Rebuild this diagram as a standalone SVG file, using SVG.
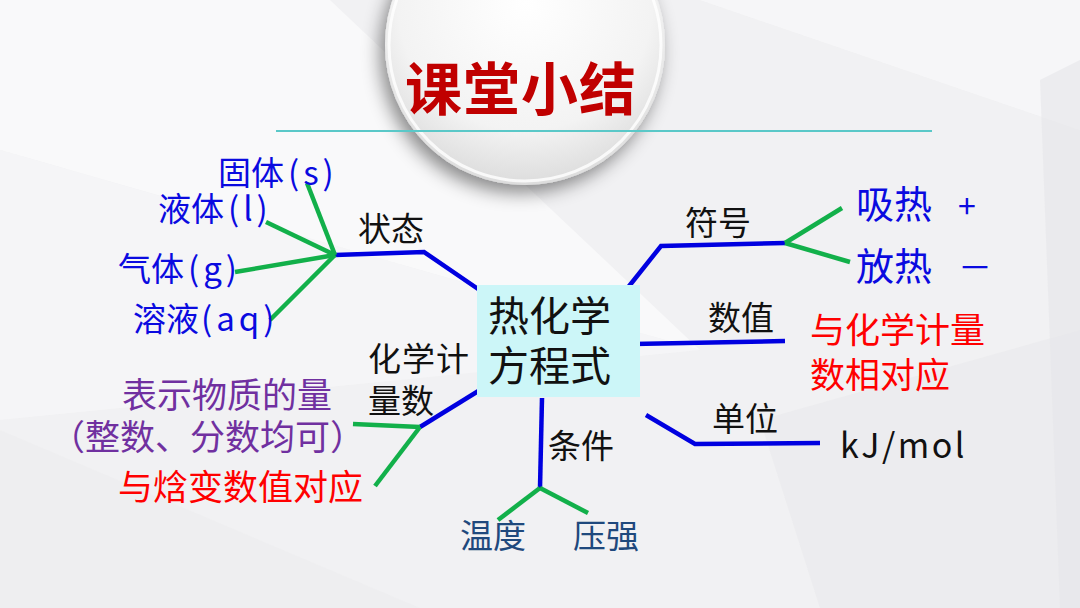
<svg xmlns="http://www.w3.org/2000/svg" width="1080" height="608" viewBox="0 0 1080 608">
<defs>
<radialGradient id="cg" cx="0.5" cy="0.35" r="0.65">
<stop offset="0" stop-color="#ffffff"/>
<stop offset="0.7" stop-color="#f3f3f3"/>
<stop offset="1" stop-color="#dcdcdc"/>
</radialGradient>
<filter id="sh" x="-30%" y="-30%" width="160%" height="160%">
<feGaussianBlur in="SourceAlpha" stdDeviation="9"/>
<feOffset dx="-5" dy="8" result="b"/>
<feFlood flood-color="#000" flood-opacity="0.45"/>
<feComposite in2="b" operator="in"/>
<feMerge><feMergeNode/><feMergeNode in="SourceGraphic"/></feMerge>
</filter>
<style>
text{font-family:"Noto Sans CJK SC","Noto Sans",sans-serif;}
.blk{fill:#111;font-size:33px;}
.st{fill:#0a0ae0;font-size:33px;}
.pr{letter-spacing:4px;}
.bl{fill:none;stroke:#0000e0;stroke-width:4.5;stroke-linejoin:miter;}
.gr{fill:none;stroke:#12b04a;stroke-width:4.5;}
.red{fill:#ff0000;font-size:35px;}
</style>
</defs>
<g id="background">
<rect x="0" y="0" width="1080" height="608" fill="#f1f1f3"/>
<polygon points="0,0 330,0 700,350 0,150" fill="#ffffff" opacity="0.55"/>
<polygon points="0,150 700,350 0,420" fill="#f7f7f8" opacity="0.7"/>
<polygon points="700,0 1080,0 1080,130" fill="#f8f8f9" opacity="0.8"/>
<polygon points="760,420 1080,330 1080,608 820,608" fill="#e9e9ec" opacity="0.7"/>
<polygon points="0,430 420,608 0,608" fill="#ececef" opacity="0.6"/>
<polygon points="1040,80 1080,60 1080,608 1060,608" fill="#e6e6ea" opacity="0.6"/>
</g>
<g id="title">
<circle cx="525" cy="45" r="140" fill="url(#cg)" filter="url(#sh)"/>
<circle cx="525" cy="45" r="136" fill="none" stroke="#ffffff" stroke-width="3" opacity="0.8"/>
<line x1="276" y1="131" x2="932" y2="131" stroke="#5ac8c8" stroke-width="2"/>
<text x="405" y="110" fill="#c00000" font-size="57" font-weight="bold" letter-spacing="1">课堂小结</text>
</g>
<g id="connectors">
<polyline class="bl" points="481,291 424,252 335,255"/>
<line class="gr" x1="335" y1="255" x2="307" y2="183"/>
<line class="gr" x1="335" y1="255" x2="266" y2="222"/>
<line class="gr" x1="335" y1="255" x2="235" y2="272"/>
<line class="gr" x1="335" y1="255" x2="270" y2="320"/>
<polyline class="bl" points="622,295 661,246 785,243"/>
<line class="gr" x1="785" y1="243" x2="842" y2="208"/>
<line class="gr" x1="785" y1="243" x2="850" y2="262"/>
<line class="bl" x1="633" y1="344" x2="785" y2="341"/>
<polyline class="bl" points="646,415 695,444 820,443"/>
<line class="bl" x1="542" y1="398" x2="540" y2="488"/>
<line class="gr" x1="540" y1="488" x2="498" y2="520"/>
<line class="gr" x1="540" y1="488" x2="588" y2="513"/>
<line class="bl" x1="480" y1="390" x2="420" y2="427"/>
<line class="gr" x1="420" y1="427" x2="353" y2="424"/>
<line class="gr" x1="420" y1="427" x2="375" y2="486"/>
</g>
<g id="center">
<rect x="477" y="285" width="163" height="112" fill="#ccf6f8"/>
<text x="488" y="331" fill="#111" font-size="41">热化学</text>
<text x="488" y="381" fill="#111" font-size="41">方程式</text>
</g>
<g id="state">
<text class="blk" x="358" y="241">状态</text>
<text class="st" x="218" y="185">固体<tspan class="pr" dx="4">(s)</tspan></text>
<text class="st" x="158" y="221">液体<tspan class="pr" dx="4">(l)</tspan></text>
<text class="st" x="118" y="281">气体<tspan class="pr" dx="4">(g)</tspan></text>
<text class="st" x="133" y="331">溶液<tspan class="pr" dx="2">(aq)</tspan></text>
</g>
<g id="sign">
<text class="blk" x="685" y="235">符号</text>
<text fill="#0a0ae0" font-size="38" x="856" y="218">吸热<tspan x="958" font-size="32">+</tspan></text>
<text fill="#0a0ae0" font-size="38" x="856" y="280">放热<tspan x="958" font-size="34">－</tspan></text>
</g>
<g id="value">
<text class="blk" x="708" y="330">数值</text>
<text class="red" x="810" y="343">与化学计量</text>
<text class="red" x="810" y="388">数相对应</text>
</g>
<g id="unit">
<text class="blk" x="712" y="431">单位</text>
<text fill="#111" font-size="34" x="840" y="458" letter-spacing="2.5">kJ/mol</text>
</g>
<g id="condition">
<text class="blk" x="548" y="458">条件</text>
<text fill="#1f497d" font-size="33" x="460" y="548">温度</text>
<text fill="#1f497d" font-size="33" x="573" y="548">压强</text>
</g>
<g id="coefficient">
<text class="blk" x="368" y="371" letter-spacing="1">化学计</text>
<text class="blk" x="368" y="413">量数</text>
<text fill="#7030a0" font-size="35" x="122" y="408">表示物质的量</text>
<text fill="#7030a0" font-size="35" x="50" y="450">（整数、分数均可）</text>
<text class="red" x="118" y="500">与焓变数值对应</text>
</g>
</svg>
